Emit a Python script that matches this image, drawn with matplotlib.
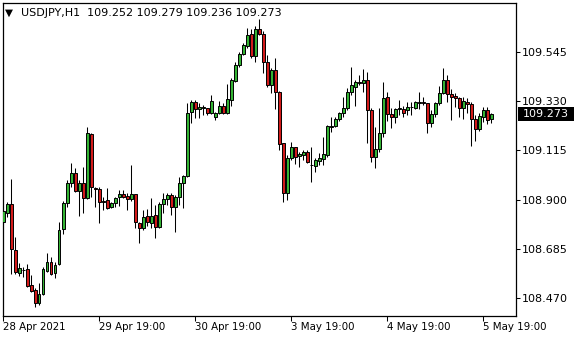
import numpy as np
import matplotlib
matplotlib.use("Agg")
import matplotlib.pyplot as plt
from matplotlib.patches import Rectangle
from matplotlib.transforms import blended_transform_factory

symbol = "USDJPY,H1"

# hourly OHLC, first bar 28 Apr 2021 19:00
opens = [108.802, 108.842, 108.879, 108.680, 108.579, 108.592, 108.596, 108.524, 108.504, 108.448,
         108.485, 108.588, 108.625, 108.577, 108.616, 108.770, 108.883, 108.971, 109.015, 108.939,
         108.971, 108.905, 109.187, 108.950, 108.945, 108.890, 108.897, 108.866, 108.883, 108.912,
         108.924, 108.915, 108.901, 108.924, 108.799, 108.774, 108.828, 108.799, 108.832, 108.781,
         108.879, 108.901, 108.920, 108.866, 108.912, 108.971, 109.003, 109.282, 109.326, 109.295,
         109.300, 109.300, 109.278, 109.260, 109.278, 109.310, 109.278, 109.336, 109.421, 109.489,
         109.536, 109.574, 109.624, 109.530, 109.647, 109.625, 109.501, 109.402, 109.468, 109.370,
         109.146, 108.927, 109.081, 109.129, 109.092, 109.095, 109.107, 109.052, 109.048, 109.070,
         109.078, 109.095, 109.219, 109.222, 109.252, 109.278, 109.300, 109.370, 109.394, 109.414,
         109.409, 109.424, 109.292, 109.085, 109.121, 109.190, 109.348, 109.273, 109.260, 109.295,
         109.295, 109.292, 109.304, 109.302, 109.324, 109.326, 109.322, 109.237, 109.275, 109.322,
         109.366, 109.424, 109.362, 109.353, 109.344, 109.300, 109.326, 109.319, 109.252, 109.208,
         109.263, 109.292, 109.252]
highs = [108.854, 108.890, 108.989, 108.734, 108.621, 108.606, 108.618, 108.569, 108.511, 108.533,
         108.606, 108.664, 108.650, 108.628, 108.803, 108.894, 108.986, 109.061, 109.039, 108.986,
         109.044, 109.216, 109.190, 108.956, 108.956, 108.912, 108.949, 108.890, 108.912, 108.942,
         108.942, 108.930, 109.051, 108.925, 108.803, 108.854, 108.857, 108.905, 108.876, 108.890,
         108.927, 108.927, 108.927, 108.920, 109.000, 109.007, 109.322, 109.336, 109.336, 109.322,
         109.314, 109.302, 109.358, 109.285, 109.332, 109.322, 109.406, 109.431, 109.504, 109.548,
         109.584, 109.653, 109.647, 109.662, 109.691, 109.638, 109.533, 109.478, 109.519, 109.376,
         109.146, 109.095, 109.153, 109.130, 109.110, 109.117, 109.117, 109.129, 109.081, 109.105,
         109.173, 109.227, 109.263, 109.260, 109.285, 109.348, 109.387, 109.482, 109.424, 109.446,
         109.471, 109.459, 109.302, 109.219, 109.301, 109.415, 109.372, 109.300, 109.300, 109.336,
         109.310, 109.329, 109.329, 109.333, 109.370, 109.351, 109.324, 109.292, 109.326, 109.397,
         109.475, 109.446, 109.383, 109.365, 109.348, 109.351, 109.344, 109.329, 109.270, 109.278,
         109.307, 109.307, 109.279]
lows = [108.793, 108.825, 108.572, 108.572, 108.565, 108.562, 108.518, 108.496, 108.430, 108.437,
        108.482, 108.584, 108.569, 108.555, 108.613, 108.749, 108.869, 108.956, 108.934, 108.829,
        108.840, 108.902, 108.910, 108.869, 108.796, 108.854, 108.857, 108.862, 108.869, 108.872,
        108.905, 108.854, 108.894, 108.774, 108.708, 108.766, 108.784, 108.777, 108.730, 108.774,
        108.840, 108.876, 108.832, 108.759, 108.876, 108.864, 109.000, 109.234, 109.258, 109.258,
        109.270, 109.270, 109.273, 109.248, 109.275, 109.275, 109.275, 109.311, 109.416, 109.482,
        109.533, 109.563, 109.521, 109.504, 109.621, 109.453, 109.394, 109.365, 109.297, 109.117,
        108.888, 108.898, 109.073, 109.056, 109.044, 109.073, 109.059, 108.978, 109.022, 109.051,
        109.051, 109.088, 109.197, 109.216, 109.244, 109.263, 109.292, 109.358, 109.311, 109.402,
        109.372, 109.146, 109.063, 109.037, 109.108, 109.173, 109.244, 109.215, 109.234, 109.270,
        109.263, 109.270, 109.270, 109.297, 109.297, 109.314, 109.190, 109.219, 109.263, 109.314,
        109.362, 109.329, 109.248, 109.307, 109.263, 109.253, 109.278, 109.136, 109.156, 109.201,
        109.241, 109.231, 109.236]
closes = [108.850, 108.879, 108.682, 108.581, 108.599, 108.590, 108.522, 108.501, 108.448, 108.486,
          108.596, 108.625, 108.572, 108.613, 108.766, 108.883, 108.971, 109.015, 108.939, 108.971,
          108.905, 109.190, 108.954, 108.945, 108.888, 108.893, 108.862, 108.883, 108.908, 108.924,
          108.912, 108.901, 108.923, 108.800, 108.774, 108.822, 108.800, 108.829, 108.781, 108.879,
          108.901, 108.920, 108.866, 108.912, 108.971, 109.003, 109.278, 109.326, 109.295, 109.304,
          109.304, 109.278, 109.332, 109.278, 109.310, 109.278, 109.339, 109.424, 109.489, 109.536,
          109.577, 109.621, 109.530, 109.647, 109.625, 109.501, 109.402, 109.468, 109.370, 109.142,
          108.927, 109.081, 109.129, 109.088, 109.100, 109.107, 109.063, 109.050, 109.073, 109.083,
          109.098, 109.222, 109.222, 109.252, 109.278, 109.300, 109.370, 109.402, 109.414, 109.409,
          109.424, 109.292, 109.088, 109.121, 109.190, 109.344, 109.273, 109.263, 109.295, 109.300,
          109.280, 109.304, 109.305, 109.326, 109.326, 109.322, 109.237, 109.275, 109.322, 109.366,
          109.424, 109.361, 109.351, 109.344, 109.300, 109.332, 109.317, 109.252, 109.208, 109.266,
          109.292, 109.248, 109.273]

time_labels = ["28 Apr 2021", "29 Apr 19:00", "30 Apr 19:00", "3 May 19:00", "4 May 19:00", "5 May 19:00"]
price_ticks = [108.470, 108.685, 108.900, 109.115, 109.330, 109.545]

GREEN = "#34b334"
RED = "#d21a1a"
FONT = "DejaVu Sans"

o = np.array(opens)
h = np.array(highs)
l = np.array(lows)
c = np.array(closes)
x = np.arange(len(o))

fig = plt.figure(figsize=(5.8, 3.4), dpi=100)
ax = fig.add_axes([2.7 / 580, 1 - 315.5 / 340, 513.6 / 580, 312.8 / 340])

ax.vlines(x, l, h, color="black", linewidth=0.75, zorder=2)
body_colors = np.where(c >= o, GREEN, RED)
ax.bar(x, np.abs(c - o), bottom=np.minimum(o, c), width=0.6,
       color=body_colors, edgecolor="black", linewidth=0.7, zorder=3)

ax.set_xlim(-0.15, 128.25)
ax.set_ylim(108.392, 109.762)

# time axis: one label per 24 bars
ax.set_xticks(np.arange(len(time_labels)) * 24)
ax.set_xticklabels(time_labels, fontsize=7.4, family=FONT)
for lab in ax.get_xticklabels():
    lab.set_horizontalalignment("left")
ax.tick_params(axis="x", direction="out", length=3.5, width=0.75, pad=1.5, colors="black")

ax.yaxis.tick_right()
ax.set_yticks(price_ticks)
ax.set_yticklabels([f"{p:.3f}" for p in price_ticks], fontsize=8, family=FONT)
ax.tick_params(axis="y", direction="out", length=3, width=0.75, pad=1.2, colors="black")

for s in ax.spines.values():
    s.set_linewidth(0.9)
    s.set_color("black")

# last price marker
last = c[-1]
trans = blended_transform_factory(ax.transAxes, ax.transData)
ax.add_patch(Rectangle((1.0027, last - 0.031), 0.1097, 0.062, transform=trans,
                       facecolor="black", edgecolor="none", clip_on=False, zorder=5))
ax.text(1.0125, last, f"{last:.3f}", transform=trans, color="white", fontsize=8,
        family=FONT, va="center", ha="left", zorder=6)

# header line
fig.text(5 / 580, 1 - 12.5 / 340, "\u25bc", fontsize=7.5, family=FONT, va="center", ha="left")
header = f"{symbol}  {o[-1]:.3f} {h[-1]:.3f} {l[-1]:.3f} {c[-1]:.3f}"
fig.text(21 / 580, 1 - 13 / 340, header, fontsize=8, family=FONT, va="center", ha="left")

fig.savefig("out.png", dpi=100)
